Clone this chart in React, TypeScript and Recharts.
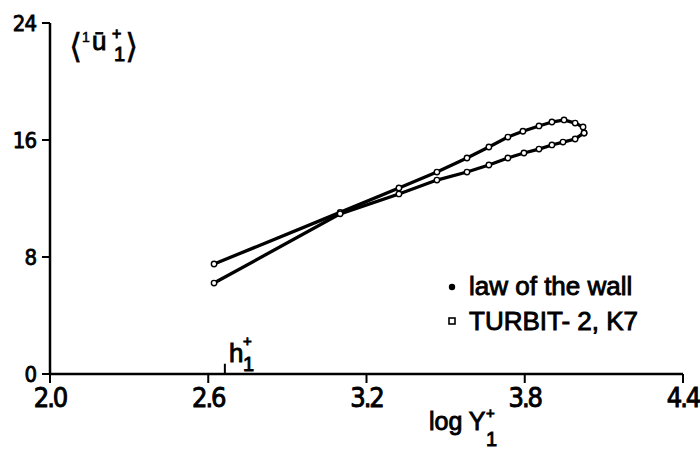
import React from 'react';
import { ScatterChart, Scatter, XAxis, YAxis, ReferenceLine, Customized } from 'recharts';

// log Y1+ and <1u1+>
const wallX = [2.622, 3.10, 3.323, 3.467, 3.581, 3.664, 3.736, 3.793, 3.854, 3.903, 3.949, 3.991, 4.021, 4.025];
const wallY = [7.52, 11.05, 12.72, 13.81, 14.77, 15.52, 16.2, 16.6, 16.96, 17.23, 17.37, 17.16, 16.89, 16.48];
const turbitX = [2.622, 3.10, 3.323, 3.467, 3.581, 3.664, 3.736, 3.797, 3.854, 3.903, 3.945, 3.991, 4.025];
const turbitY = [6.22, 10.95, 12.31, 13.26, 13.81, 14.29, 14.77, 15.11, 15.38, 15.66, 15.86, 16.07, 16.48];

const xTicks = [2.0, 2.6, 3.2, 3.8, 4.4];
const yTicks = [0, 8, 16, 24];
const hPlus = 2.663;

const wallData = wallX.map((x, i) => ({ x, y: wallY[i] }));
const turbitData = turbitX.map((x, i) => ({ x, y: turbitY[i] }));

const tickFont = '"DejaVu Sans Condensed", "DejaVu Sans", sans-serif';
const textFont = '"Liberation Sans", Arial, sans-serif';

const Ring = (p: any) => (
  <circle cx={p.cx} cy={p.cy} r={2.7} fill="#fff" stroke="#000" strokeWidth={1.4} />
);

const XTick = (p: any) => (
  <text x={p.x} y={p.y} dy="0.74em" textAnchor="middle" fontFamily={tickFont} fontSize={27}
    letterSpacing={-2} fill="#000" stroke="#000" strokeWidth={0.9}>
    {Number(p.payload.value).toFixed(1)}
  </text>
);

const YTick = (p: any) => (
  <text x={p.x} y={p.y} dy="0.36em" textAnchor="end" fontFamily={tickFont} fontSize={22}
    letterSpacing={-1} fill="#000" stroke="#000" strokeWidth={0.8}>
    {p.payload.value}
  </text>
);

const Annotations = () => (
  <g fill="#000" stroke="#000" strokeWidth={0.9} fontFamily={textFont}>
    {/* y axis title */}
    <text x={69} y={58} fontSize={34} fontFamily="DejaVu Sans" strokeWidth={0.4}>⟨</text>
    <text x={82} y={42} fontSize={14} strokeWidth={0.5}>1</text>
    <text x={92} y={50} fontSize={26}>ū</text>
    <text x={112} y={39} fontSize={16}>+</text>
    <text x={114} y={61} fontSize={20}>1</text>
    <text x={125} y={58} fontSize={34} fontFamily="DejaVu Sans" strokeWidth={0.4}>⟩</text>

    {/* x axis title */}
    <text x={429} y={430} fontSize={25}>log Y</text>
    <text x={486} y={418} fontSize={15}>+</text>
    <text x={486} y={446} fontSize={20}>1</text>

    {/* h1+ marker */}
    <text x={229} y={362} fontSize={26}>h</text>
    <text x={243} y={346} fontSize={15}>+</text>
    <text x={243} y={371} fontSize={20}>1</text>

    {/* legend */}
    <circle cx={452} cy={287} r={3.2} stroke="none" />
    <text x={469} y={295} fontSize={26}>law of the wall</text>
    <rect x={449} y={318} width={6} height={6} fill="#fff" strokeWidth={1.6} />
    <text x={469} y={330} fontSize={26}>TURBIT- 2, K7</text>
  </g>
);

export default function App() {
  return (
    <div style={{ position: 'absolute', left: 0, top: 0, width: 700, height: 449, background: '#fff' }}>
      <ScatterChart width={700} height={449} margin={{ top: 23, right: 17, left: 0, bottom: 0 }}>
        <XAxis
          type="number"
          dataKey="x"
          domain={[2.0, 4.4]}
          ticks={xTicks}
          height={75}
          axisLine={{ stroke: '#000', strokeWidth: 2.5 }}
          tickLine={{ stroke: '#000', strokeWidth: 2 }}
          tickSize={9}
          tickMargin={4}
          tick={XTick}
          interval={0}
        />
        <YAxis
          type="number"
          dataKey="y"
          domain={[0, 24]}
          ticks={yTicks}
          width={50}
          axisLine={{ stroke: '#000', strokeWidth: 2.5 }}
          tickLine={{ stroke: '#000', strokeWidth: 2 }}
          tickSize={8}
          tickMargin={6}
          tick={YTick}
          interval={0}
        />
        <ReferenceLine
          segment={[{ x: hPlus, y: 0 }, { x: hPlus, y: 0.7 }]}
          stroke="#000"
          strokeWidth={2}
        />
        <Scatter
          name="law of the wall"
          data={wallData}
          line={{ stroke: '#000', strokeWidth: 3.3 }}
          lineType="joint"
          shape={Ring}
          isAnimationActive={false}
        />
        <Scatter
          name="TURBIT-2, K7"
          data={turbitData}
          line={{ stroke: '#000', strokeWidth: 3.3 }}
          lineType="joint"
          shape={Ring}
          isAnimationActive={false}
        />
        <Customized component={Annotations} />
      </ScatterChart>
    </div>
  );
}
